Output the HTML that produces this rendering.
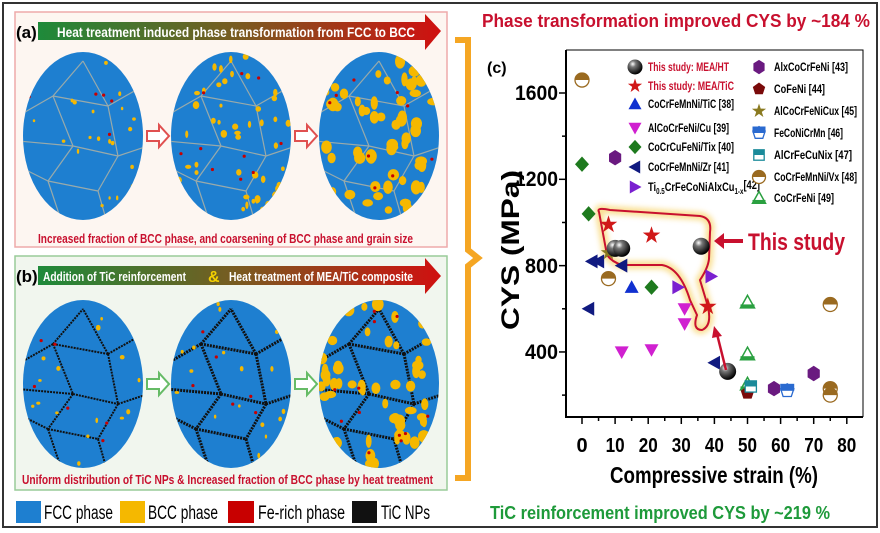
<!DOCTYPE html>
<html><head><meta charset="utf-8"><style>
html,body{margin:0;padding:0;background:#fff;}
svg{display:block;font-family:"Liberation Sans",sans-serif;}
</style></head><body>
<svg id="s" width="880" height="533" viewBox="0 0 880 533" xmlns="http://www.w3.org/2000/svg">
<defs>
<linearGradient id="gb" x1="0" x2="1"><stop offset="0" stop-color="#1e8a3a"/><stop offset="0.5" stop-color="#7a5a20"/><stop offset="1" stop-color="#d01010"/></linearGradient>
<radialGradient id="sph" cx="0.35" cy="0.3" r="0.7"><stop offset="0" stop-color="#fff"/><stop offset="0.3" stop-color="#777"/><stop offset="1" stop-color="#000"/></radialGradient>
<filter id="glow"><feGaussianBlur stdDeviation="3"/></filter>
</defs>
<rect x="3" y="3" width="874" height="524" fill="#fff" stroke="#333" stroke-width="2"/>
<!-- panel a -->
<rect x="15" y="12" width="432" height="235" fill="#fdf6f1" stroke="#eaa" stroke-width="1.5"/>
<text x="16" y="38" font-size="17" font-weight="bold">(a)</text>
<polygon points="38,22 425,22 425,14 441,31 425,50 425,40 38,40" fill="url(#gb)"/>
<text x="57" y="37" font-size="14" font-weight="bold" fill="#fff" textLength="358" lengthAdjust="spacingAndGlyphs">Heat treatment induced phase transformation from FCC to BCC</text>
<text x="38" y="243" font-size="12.5" font-weight="bold" fill="#c8102e" textLength="375" lengthAdjust="spacingAndGlyphs">Increased fraction of BCC phase, and coarsening of  BCC phase and grain size</text>
<!-- panel b -->
<rect x="15" y="256" width="432" height="234" fill="#f1f6ee" stroke="#9c9" stroke-width="1.5"/>
<text x="16" y="282" font-size="17" font-weight="bold">(b)</text>
<polygon points="38,266 425,266 425,258 441,276 425,294 425,285 38,285" fill="url(#gb)"/>
<text x="43" y="281" font-size="13" font-weight="bold" fill="#fff" textLength="143" lengthAdjust="spacingAndGlyphs">Addition of TiC reinforcement</text>
<text x="208" y="282" font-size="16" font-weight="bold" fill="#f5d000">&amp;</text>
<text x="229" y="281" font-size="13" font-weight="bold" fill="#fff" textLength="184" lengthAdjust="spacingAndGlyphs">Heat treatment of MEA/TiC composite</text>
<text x="22" y="484" font-size="12.5" font-weight="bold" fill="#c8102e" textLength="411" lengthAdjust="spacingAndGlyphs">Uniform distribution of TiC NPs  &amp;  Increased fraction of BCC phase by heat treatment</text>
<g id="micro"></g>
<!-- legend -->
<g font-size="19">
<rect x="16" y="501" width="25" height="22" fill="#1e7fd0"/><text x="44" y="519" textLength="69" lengthAdjust="spacingAndGlyphs">FCC phase</text>
<rect x="120" y="501" width="25" height="22" fill="#f5b800"/><text x="148" y="519" textLength="70" lengthAdjust="spacingAndGlyphs">BCC phase</text>
<rect x="228" y="501" width="26" height="22" fill="#c80000"/><text x="258" y="519" textLength="87" lengthAdjust="spacingAndGlyphs">Fe-rich phase</text>
<rect x="352" y="501" width="25" height="22" fill="#111"/><text x="381" y="519" textLength="49" lengthAdjust="spacingAndGlyphs">TiC NPs</text>
</g>
<!-- brace -->
<path d="M455,40 H468 V250 L478,258 L468,266 V478 H455" fill="none" stroke="#f5a623" stroke-width="6"/>
<!-- titles -->
<text x="482" y="27" font-size="18" font-weight="bold" fill="#c8102e" textLength="388" lengthAdjust="spacingAndGlyphs">Phase transformation improved CYS by ~184 %</text>
<text x="490" y="519" font-size="18" font-weight="bold" fill="#1e9a3a" textLength="340" lengthAdjust="spacingAndGlyphs">TiC reinforcement improved CYS by ~219 %</text>
<!-- chart -->
<text x="487" y="73" font-size="16" font-weight="bold">(c)</text>
<path d="M566,50 V417 H863" fill="none" stroke="#000" stroke-width="2"/>
<path d="M566,50 H863 V417" fill="none" stroke="#000" stroke-width="1"/>
<g id="ticks" stroke="#000" stroke-width="1.5"></g>
<g font-size="21" font-weight="bold" text-anchor="end">
<text x="558" y="100" textLength="43" lengthAdjust="spacingAndGlyphs">1600</text><text x="558" y="186" textLength="43" lengthAdjust="spacingAndGlyphs">1200</text><text x="558" y="273" textLength="33" lengthAdjust="spacingAndGlyphs">800</text><text x="558" y="359" textLength="33" lengthAdjust="spacingAndGlyphs">400</text>
</g>
<g font-size="20" font-weight="bold" text-anchor="middle" id="xl"></g>
<text x="610" y="483" font-size="23" font-weight="bold" textLength="208" lengthAdjust="spacingAndGlyphs">Compressive strain (%)</text>
<text transform="translate(519,250) rotate(-90)" font-size="25" font-weight="bold" textLength="160" lengthAdjust="spacingAndGlyphs" text-anchor="start" x="-80">CYS (MPa)</text>
<!-- highlight -->
<path d="M599,212 Q596,207 610,210 L700,216 Q712,218 710,232 L709,259 Q708,268 700,280 L706,300 Q714,325 702,330 Q692,330 697,315 L690,300 Q680,268 662,265 L622,265 Q612,262 607,255 Z" fill="none" stroke="#f7d060" stroke-width="8" opacity="0.7" filter="url(#glow)"/>
<path d="M599,212 Q596,207 610,210 L700,216 Q712,218 710,232 L709,259 Q708,268 700,280 L706,300 Q714,325 702,330 Q692,330 697,315 L690,300 Q680,268 662,265 L622,265 Q612,262 607,255 Z" fill="none" stroke="#c8102e" stroke-width="2"/>
<g id="pts"></g>
<!-- arrows -->
<path d="M743,241 H718" stroke="#c8102e" stroke-width="4"/><polygon points="714,241 724,233 724,249" fill="#c8102e"/>
<text x="748" y="250" font-size="24" font-weight="bold" fill="#c8102e" textLength="97" lengthAdjust="spacingAndGlyphs">This study</text>
<path d="M726,370 L717,334" stroke="#c8102e" stroke-width="2.5"/><polygon points="714,326 712,338 722,336" fill="#c8102e"/>
<g id="leg" font-size="12" font-weight="bold"></g>
</svg>
<script>
var NS="http://www.w3.org/2000/svg";
function el(p,t,a,txt){var e=document.createElementNS(NS,t);for(var k in a)e.setAttribute(k,a[k]);if(txt!=null)e.textContent=txt;document.getElementById(p).appendChild(e);return e;}
var seed=7;function r(){seed=(seed*16807)%2147483647;return seed/2147483647;}
var circ=[[83,136],[231,136],[379,136],[83,384],[231,384],[379,384]];
var cfg=[[25,1.5,6,0],[55,2.2,10,0],[65,4,10,0],[18,1.6,7,1],[22,1.6,10,2],[60,4,12,2]];
circ.forEach(function(c,i){
 var id="cp"+i;var cp=el("micro","clipPath",{id:id});
 var e=document.createElementNS(NS,"ellipse");e.setAttribute("cx",c[0]);e.setAttribute("cy",c[1]);e.setAttribute("rx",60);e.setAttribute("ry",84);cp.appendChild(e);
 var g=el("micro","g",{"clip-path":"url(#"+id+")"});
 var gid="mg"+i;g.id=gid;
 el(gid,"rect",{x:c[0]-61,y:c[1]-85,width:122,height:170,fill:"#1e7fd0"});
 var k=cfg[i];
 var pts=[[-30,-40],[25,-30],[-10,10],[35,20],[-35,45],[15,55],[0,-75]];
 var edges=[[0,1],[0,2],[1,3],[2,3],[2,4],[3,5],[4,5],[0,6],[1,6]];
 var col=k[3]==0?"#9aa":"#111",w=k[3]==0?1.2:(k[3]==1?2:3);
 edges.forEach(function(ed){var a=pts[ed[0]],b=pts[ed[1]];el(gid,"line",{x1:c[0]+a[0],y1:c[1]+a[1],x2:c[0]+b[0],y2:c[1]+b[1],stroke:col,"stroke-width":w,"stroke-dasharray":k[3]?"2 1":""});});
 [[-30,-40,-65,-20],[-35,45,-65,30],[35,20,65,10],[25,-30,60,-50],[15,55,25,90],[-35,45,-20,90],[-10,10,-65,5]].forEach(function(s){el(gid,"line",{x1:c[0]+s[0],y1:c[1]+s[1],x2:c[0]+s[2],y2:c[1]+s[3],stroke:col,"stroke-width":w,"stroke-dasharray":k[3]?"2 1":""});});
 for(var j=0;j<k[0];j++){el(gid,"ellipse",{cx:c[0]-58+r()*116,cy:c[1]-82+r()*164,rx:k[1]*(0.7+r()*0.8),ry:k[1]*(0.9+r()*0.9),fill:"#f5b800"});}
 for(var j=0;j<k[2];j++){el(gid,"circle",{cx:c[0]-55+r()*110,cy:c[1]-78+r()*156,r:1.6,fill:"#c80000"});}
});
[[147,136,"#e05050"],[295,136,"#e05050"],[147,384,"#6b6"],[295,384,"#6b6"]].forEach(function(a){
 el("micro","polygon",{points:(a[0])+","+(a[1]-5)+" "+(a[0]+12)+","+(a[1]-5)+" "+(a[0]+12)+","+(a[1]-11)+" "+(a[0]+22)+","+a[1]+" "+(a[0]+12)+","+(a[1]+11)+" "+(a[0]+12)+","+(a[1]+5)+" "+a[0]+","+(a[1]+5),fill:"#fff",stroke:a[2],"stroke-width":2});
});
function X(v){return 582+v*3.31;}function Y(v){return 93+(1600-v)*0.2158;}
for(var v=0;v<=80;v+=5){el("ticks","line",{x1:X(v),y1:417,x2:X(v),y2:v%10?421:424});}
for(var v=0;v<=80;v+=10){var t=el("xl","text",{x:X(v),y:452},v);if(v>0){t.setAttribute("textLength",19);t.setAttribute("lengthAdjust","spacingAndGlyphs");}}
for(var v=200;v<=1600;v+=200)el("ticks","line",{x1:566,y1:Y(v),x2:v%400?562:559,y2:Y(v)});
function mk(p,t,x,y,s){
 s=s||6;
 switch(t){
 case"sph":el(p,"circle",{cx:x,cy:y,r:s+2,fill:"url(#sph)"});break;
 case"star":case"ostar":var d="";for(var i=0;i<10;i++){var a=-Math.PI/2+i*Math.PI/5,R=i%2?s*0.45:s*1.15;d+=(x+R*Math.cos(a)).toFixed(1)+","+(y+R*Math.sin(a)).toFixed(1)+" ";}
  el(p,"polygon",{points:d,fill:t=="star"?"#d01818":"#8a7a20"});break;
 case"up":el(p,"polygon",{points:x+","+(y-s)+" "+(x+s)+","+(y+s*0.8)+" "+(x-s)+","+(y+s*0.8),fill:"#1030d0"});break;
 case"dn":el(p,"polygon",{points:x+","+(y+s)+" "+(x+s)+","+(y-s*0.8)+" "+(x-s)+","+(y-s*0.8),fill:"#d020d0"});break;
 case"dia":el(p,"polygon",{points:x+","+(y-s*1.1)+" "+(x+s)+","+y+" "+x+","+(y+s*1.1)+" "+(x-s)+","+y,fill:"#1e7a1e"});break;
 case"lt":el(p,"polygon",{points:(x-s)+","+y+" "+(x+s*0.8)+","+(y-s)+" "+(x+s*0.8)+","+(y+s),fill:"#101a80"});break;
 case"rt":el(p,"polygon",{points:(x+s)+","+y+" "+(x-s*0.8)+","+(y-s)+" "+(x-s*0.8)+","+(y+s),fill:"#7a20d0"});break;
 case"hex":var d="";for(var i=0;i<6;i++){var a=Math.PI/6+i*Math.PI/3;d+=(x+s*Math.cos(a)).toFixed(1)+","+(y+s*1.1*Math.sin(a)).toFixed(1)+" ";}el(p,"polygon",{points:d,fill:"#6a1a80"});break;
 case"pent":var d="";for(var i=0;i<5;i++){var a=-Math.PI/2+i*2*Math.PI/5;d+=(x+s*Math.cos(a)).toFixed(1)+","+(y+s*Math.sin(a)).toFixed(1)+" ";}el(p,"polygon",{points:d,fill:"#7a0a0a"});break;
 case"hpent":var d="";for(var i=0;i<5;i++){var a=-Math.PI/2+i*2*Math.PI/5;d+=(x+s*Math.cos(a)).toFixed(1)+","+(y+s*Math.sin(a)).toFixed(1)+" ";}el(p,"polygon",{points:d,fill:"#fff",stroke:"#2a6ad0","stroke-width":1.3});el(p,"rect",{x:x-s,y:y-s,width:2*s,height:s,fill:"#2a6ad0"});break;
 case"hsq":el(p,"rect",{x:x-s*0.8,y:y-s*0.8,width:s*1.6,height:s*1.6,fill:"#fff",stroke:"#1a8a9a","stroke-width":1.3});el(p,"rect",{x:x-s*0.8,y:y-s*0.8,width:s*1.6,height:s*0.8,fill:"#1a8a9a"});break;
 case"hc":el(p,"circle",{cx:x,cy:y,r:s,fill:"#fff",stroke:"#9a6a20","stroke-width":1.3});el(p,"path",{d:"M"+(x-s)+","+y+" A"+s+","+s+" 0 0 1 "+(x+s)+","+y+" Z",fill:"#9a6a20"});break;
 case"otri":el(p,"polygon",{points:x+","+(y-s)+" "+(x+s)+","+(y+s*0.8)+" "+(x-s)+","+(y+s*0.8),fill:"#fff",stroke:"#2aa040","stroke-width":1.5});el(p,"rect",{x:x-s,y:y+s*0.3,width:2*s,height:s*0.5,fill:"#2aa040"});break;
 }
}
var D=[["hc",0,1660],["hc",8,740],["hc",75,620],["hc",75,230],["hc",75,200],
["dia",0,1270],["dia",2,1040],["dia",21,700],["hex",10,1300],["hex",58,230],["hex",70,300],
["lt",3,820],["lt",5,820],["lt",2,600],["lt",12,800],["lt",40,350],["up",15,700],
["dn",12,400],["dn",21,410],["dn",31,600],["dn",31,530],["rt",29,700],["rt",39,750],
["otri",50,630],["otri",50,390],["otri",50,250],["pent",50,210],["hsq",51,240],["hpent",62,220],["ostar",8,860],
["sph",10,880],["sph",12,880],["sph",36,890],["sph",44,310],["star",8,990],["star",21,940],["star",38,610]];
D.forEach(function(d){mk("pts",d[0],X(d[1]),Y(d[2]),(d[0]=="sph")?6.5:(d[0]=="star"?8:7));});
var L1=[["sph","This study: MEA/HT","#c8102e",67],["star","This study: MEA/TiC","#c8102e",86],["up","CoCrFeMnNi/TiC [38]",0,104],["dn","AlCoCrFeNi/Cu [39]",0,128],["dia","CoCrCuFeNi/Tix [40]",0,147],["lt","CoCrFeMnNi/Zr [41]",0,167],["rt","",0,187]];
var L2=[["hex","AlxCoCrFeNi [43]",67],["pent","CoFeNi [44]",89],["ostar","AlCoCrFeNiCux [45]",111],["hpent","FeCoNiCrMn [46]",133],["hsq","AlCrFeCuNix  [47]",155],["hc","CoCrFeMnNi/Vx [48]",177],["otri","CoCrFeNi [49]",198]];
L1.forEach(function(l,i){var y=l[3];mk("leg",l[0],635,y,l[0]=="sph"?5.5:6.5);
 if(i==6){var t=el("leg","text",{x:648,y:y+4,fill:"#000"});t.innerHTML='Ti<tspan font-size="8" dy="3">0.5</tspan><tspan dy="-3">CrFeCoNiAlxCu</tspan><tspan font-size="8" dy="3">1-x</tspan><tspan dy="-5">[42]</tspan>';t.setAttribute("textLength",112);t.setAttribute("lengthAdjust","spacingAndGlyphs");}
 else el("leg","text",{x:648,y:y+4,fill:l[2]||"#000",textLength:(l[1].length*4.5).toFixed(0),lengthAdjust:"spacingAndGlyphs"},l[1]);});
L2.forEach(function(l,i){var y=l[2];mk("leg",l[0],759,y,6.5);el("leg","text",{x:774,y:y+4,textLength:(l[1].length*4.6).toFixed(0),lengthAdjust:"spacingAndGlyphs"},l[1]);});
</script>
</body></html>
